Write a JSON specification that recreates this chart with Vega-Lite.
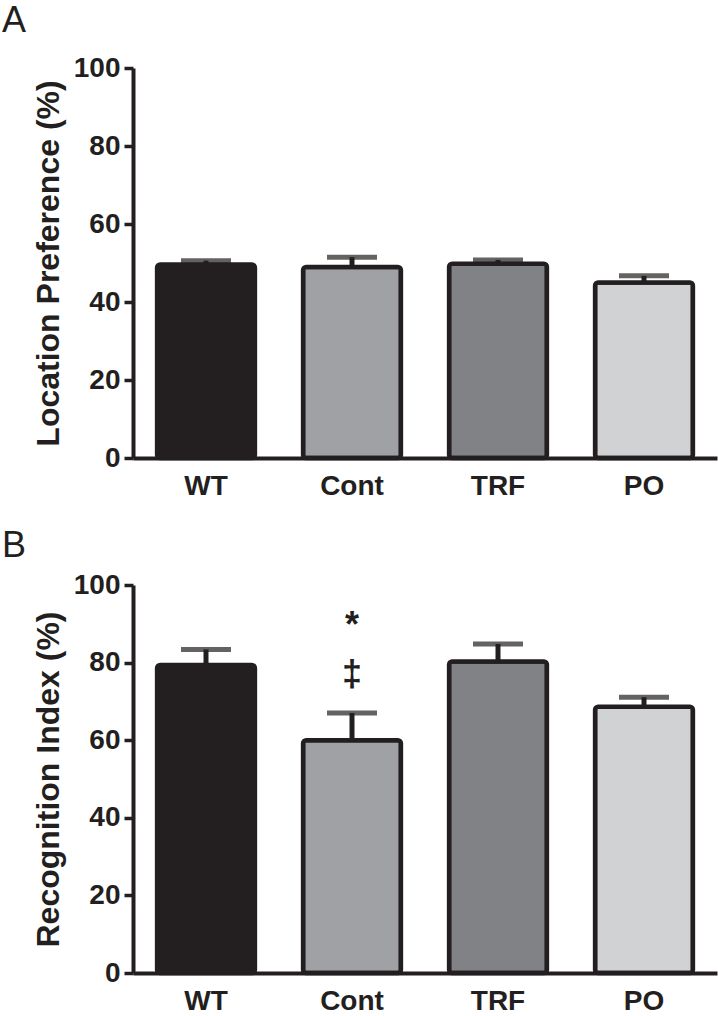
{
  "$schema": "https://vega.github.io/schema/vega-lite/v6.json",
  "background": "white",
  "padding": {"left": 2, "top": 3, "right": 1, "bottom": 0},
  "spacing": 28,
  "config": {
    "font": "Liberation Sans",
    "view": {"stroke": null},
    "axis": {
      "grid": false,
      "domainColor": "#231f20",
      "domainWidth": 4,
      "tickColor": "#231f20",
      "tickWidth": 3.5,
      "tickSize": 9,
      "labelColor": "#231f20",
      "labelFont": "Liberation Sans",
      "labelFontWeight": "bold",
      "labelFontSize": 28,
      "titleFont": "Liberation Sans",
      "titleFontWeight": "bold",
      "titleFontSize": 32,
      "titleColor": "#231f20"
    },
    "axisX": {"ticks": false, "labelPadding": 14, "labelAngle": 0},
    "axisY": {"labelPadding": 4, "titlePadding": 8},
    "title": {"fontSize": 36, "fontWeight": "normal", "color": "#231f20", "anchor": "start", "frame": "group", "dx": -131}
  },
  "datasets": {
    "A": [
      {"group": "WT", "mean": 49.6, "upper": 50.6},
      {"group": "Cont", "mean": 49.0, "upper": 51.5},
      {"group": "TRF", "mean": 49.8, "upper": 50.8},
      {"group": "PO", "mean": 45.0, "upper": 46.7}
    ],
    "B": [
      {"group": "WT", "mean": 79.4, "upper": 83.4},
      {"group": "Cont", "mean": 60.0, "upper": 67.0},
      {"group": "TRF", "mean": 80.3, "upper": 84.8},
      {"group": "PO", "mean": 68.6, "upper": 71.1}
    ],
    "notes": [
      {"group": "Cont", "label": "*", "pos": 89.4},
      {"group": "Cont", "label": "‡", "pos": 76.8}
    ]
  },
  "vconcat": [
    {
      "title": {"text": "A", "offset": 14},
      "width": 584,
      "height": 390,
      "data": {"name": "A"},
      "encoding": {
        "x": {"field": "group", "type": "nominal", "sort": ["WT", "Cont", "TRF", "PO"],
              "scale": {"paddingInner": 0.33, "paddingOuter": 0.165}, "axis": {"title": null}}
      },
      "layer": [
        {
          "mark": {"type": "bar", "stroke": "#231f20", "strokeWidth": 4.5, "cornerRadius": 3},
          "encoding": {
            "y": {"field": "mean", "type": "quantitative", "scale": {"domain": [0, 100]},
                  "axis": {"title": "Location Preference (%)", "values": [0, 20, 40, 60, 80, 100]}},
            "color": {"field": "group", "type": "nominal", "legend": null,
                      "scale": {"domain": ["WT", "Cont", "TRF", "PO"], "range": ["#231f20", "#a0a1a5", "#818286", "#d1d2d4"]}}
          }
        },
        {
          "mark": {"type": "rule", "color": "#231f20", "strokeWidth": 5},
          "encoding": {"y": {"field": "mean", "type": "quantitative"}, "y2": {"field": "upper"}}
        },
        {
          "mark": {"type": "tick", "color": "#231f20", "thickness": 5, "size": 50},
          "encoding": {"y": {"field": "upper", "type": "quantitative"}}
        }
      ]
    },
    {
      "title": {"text": "B", "offset": 6},
      "width": 584,
      "height": 388,
      "encoding": {
        "x": {"field": "group", "type": "nominal", "sort": ["WT", "Cont", "TRF", "PO"],
              "scale": {"paddingInner": 0.33, "paddingOuter": 0.165}, "axis": {"title": null}}
      },
      "layer": [
        {
          "data": {"name": "B"},
          "mark": {"type": "bar", "stroke": "#231f20", "strokeWidth": 4.5, "cornerRadius": 3},
          "encoding": {
            "y": {"field": "mean", "type": "quantitative", "scale": {"domain": [0, 100]},
                  "axis": {"title": "Recognition Index (%)", "values": [0, 20, 40, 60, 80, 100]}},
            "color": {"field": "group", "type": "nominal", "legend": null,
                      "scale": {"domain": ["WT", "Cont", "TRF", "PO"], "range": ["#231f20", "#a0a1a5", "#818286", "#d1d2d4"]}}
          }
        },
        {
          "data": {"name": "B"},
          "mark": {"type": "rule", "color": "#231f20", "strokeWidth": 5},
          "encoding": {"y": {"field": "mean", "type": "quantitative"}, "y2": {"field": "upper"}}
        },
        {
          "data": {"name": "B"},
          "mark": {"type": "tick", "color": "#231f20", "thickness": 5, "size": 50},
          "encoding": {"y": {"field": "upper", "type": "quantitative"}}
        },
        {
          "data": {"name": "notes"},
          "mark": {"type": "text", "color": "#231f20", "fontSize": 36, "fontWeight": "bold", "baseline": "middle", "align": "center"},
          "encoding": {"y": {"field": "pos", "type": "quantitative"}, "text": {"field": "label"}}
        }
      ]
    }
  ]
}
